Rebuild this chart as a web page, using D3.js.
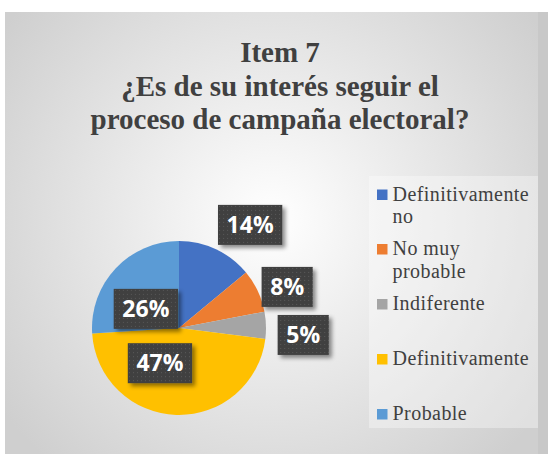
<!DOCTYPE html>
<html>
<head>
<meta charset="utf-8">
<style>
body { margin: 0; background: #fff; }
svg { display: block; }
</style>
</head>
<body>
<svg width="548" height="454"></svg>
<script src="https://cdn.jsdelivr.net/npm/d3@7"></script>
<script>
// data
var categories = ["Definitivamente no", "No muy probable", "Indiferente", "Definitivamente", "Probable"];
var values = [14, 8, 5, 47, 26];
var colors = ["#4472C4", "#ED7D31", "#A5A5A5", "#FFC000", "#5B9BD5"];
var titleLines = ["Item 7", "¿Es de su interés seguir el", "proceso de campaña electoral?"];
// legend text wrapping as in the original
var legendLines = [["Definitivamente", "no"], ["No muy", "probable"], ["Indiferente"], ["Definitivamente"], ["Probable"]];

// label placement (manual in the original): radius factor and angle shift from slice middle
var labelOffsets = [
  {k: 1.44, da: 9.4},
  {k: 1.33, da: 4.4},
  {k: 1.43, da: 5},
  {k: 0.46, da: 26.6},
  {k: 0.44, da: -13.2}
];

var serif = "'Liberation Serif', serif";

var svg = d3.select("svg");
var defs = svg.append("defs");

var grad = defs.append("radialGradient")
    .attr("id", "bg")
    .attr("gradientUnits", "userSpaceOnUse")
    .attr("cx", 272).attr("cy", 220).attr("r", 330);
grad.append("stop").attr("offset", "0%").attr("stop-color", "#ffffff");
grad.append("stop").attr("offset", "100%").attr("stop-color", "#cfcfcf");

var pat = defs.append("pattern")
    .attr("id", "dots")
    .attr("patternUnits", "userSpaceOnUse")
    .attr("width", 4).attr("height", 4);
pat.append("rect").attr("width", 4).attr("height", 4).attr("fill", "#404040");
pat.append("rect").attr("x", 1).attr("y", 1).attr("width", 1).attr("height", 1).attr("fill", "#5a5a5a");

var shadow = defs.append("filter").attr("id", "shadow")
    .attr("x", "-20%").attr("y", "-20%").attr("width", "150%").attr("height", "160%");
shadow.append("feDropShadow")
    .attr("dx", 3).attr("dy", 3).attr("stdDeviation", 2)
    .attr("flood-color", "#000").attr("flood-opacity", 0.45);

// outside strip on the right
svg.append("rect").attr("x", 538).attr("y", 12).attr("width", 10).attr("height", 442).attr("fill", "#c8c8c8");
// chart area
svg.append("rect")
    .attr("x", 5).attr("y", 12).attr("width", 533).attr("height", 442)
    .attr("fill", "url(#bg)");

// title
titleLines.forEach(function(line, i) {
  svg.append("text")
      .attr("x", 280)
      .attr("y", 62 + i * 33.5)
      .attr("text-anchor", "middle")
      .style("font-family", serif)
      .style("font-weight", "bold")
      .style("font-size", "29px")
      .attr("fill", "#404040")
      .text(line);
});

// pie
var cx = 179, cy = 328, radius = 87;
var pie = d3.pie().sort(null).value(function(d) { return d; });
var arc = d3.arc().innerRadius(0).outerRadius(radius);
var arcs = pie(values);

var g = svg.append("g").attr("transform", "translate(" + cx + "," + cy + ")");
g.selectAll("path")
  .data(arcs)
  .enter().append("path")
    .attr("d", arc)
    .attr("fill", function(d, i) { return colors[i]; });

// data labels
var total = d3.sum(values);
var lab = g.selectAll("g.lab")
  .data(arcs)
  .enter().append("g")
    .attr("class", "lab")
    .attr("transform", function(d, i) {
      var a = (d.startAngle + d.endAngle) / 2 + labelOffsets[i].da * Math.PI / 180;
      var r = radius * labelOffsets[i].k;
      return "translate(" + (Math.sin(a) * r) + "," + (-Math.cos(a) * r) + ")";
    });

lab.append("text")
    .attr("text-anchor", "middle")
    .attr("dy", "0.36em")
    .style("font-family", "'Open Sans', sans-serif")
    .style("font-weight", "bold")
    .style("font-size", "23px")
    .attr("fill", "#fff")
    .text(function(d) { return Math.round(d.value / total * 100) + "%"; });

lab.each(function() {
  var t = d3.select(this).select("text");
  var bb = t.node().getBBox();
  d3.select(this).insert("rect", "text")
    .attr("x", -bb.width / 2 - 8.5)
    .attr("y", -20)
    .attr("width", bb.width + 17)
    .attr("height", 40)
    .attr("fill", "url(#dots)")
    .attr("filter", "url(#shadow)");
});

// legend
svg.append("rect")
    .attr("x", 369).attr("y", 176).attr("width", 169).attr("height", 252)
    .attr("fill", "#fff").attr("opacity", 0.35);

var legendY = [200.5, 255, 310, 365, 420];
var leg = svg.selectAll("g.leg")
  .data(categories)
  .enter().append("g")
    .attr("class", "leg")
    .attr("transform", function(d, i) { return "translate(377," + legendY[i] + ")"; });

leg.append("rect")
    .attr("x", 0).attr("y", -11)
    .attr("width", 10.5).attr("height", 10.5)
    .attr("fill", function(d, i) { return colors[i]; });

leg.each(function(d, i) {
  var el = d3.select(this);
  legendLines[i].forEach(function(line, j) {
    el.append("text")
        .attr("x", 15.5)
        .attr("y", j * 22.7)
        .style("font-family", serif)
        .style("font-size", "20px")
        .style("letter-spacing", "0.45px")
        .attr("fill", "#404040")
        .text(line);
  });
});
</script>
</body>
</html>
